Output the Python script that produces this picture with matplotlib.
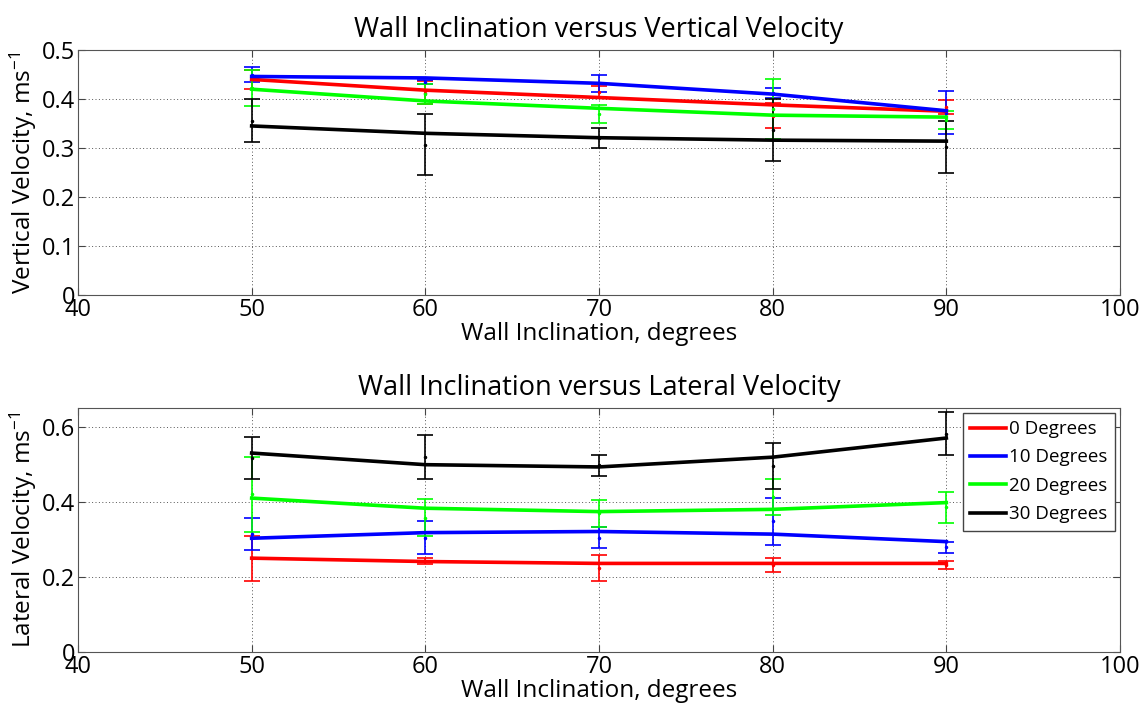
"""Wall inclination versus vertical / lateral velocity (two panels)."""

import matplotlib

matplotlib.use("Agg")
import matplotlib.pyplot as plt

plt.rcParams["font.family"] = ["Open Sans", "DejaVu Sans"]
plt.rcParams["mathtext.default"] = "regular"

angles = [50, 60, 70, 80, 90]
series_labels = ["0 Degrees", "10 Degrees", "20 Degrees", "30 Degrees"]
series_colors = ["#ff0000", "#0000ff", "#00ff00", "#000000"]

# vertical velocity: measured means, error half-widths and fitted curve values
vert_mean = [
    [0.440, 0.413, 0.415, 0.366, 0.383],
    [0.450, 0.434, 0.432, 0.413, 0.372],
    [0.423, 0.410, 0.370, 0.379, 0.357],
    [0.356, 0.307, 0.320, 0.337, 0.302],
]
vert_err = [
    [0.019, 0.024, 0.012, 0.026, 0.014],
    [0.016, 0.004, 0.018, 0.010, 0.044],
    [0.037, 0.020, 0.018, 0.061, 0.018],
    [0.044, 0.062, 0.021, 0.064, 0.054],
]
vert_fit = [
    [0.440, 0.418, 0.403, 0.388, 0.375],
    [0.446, 0.443, 0.432, 0.410, 0.376],
    [0.420, 0.396, 0.381, 0.367, 0.363],
    [0.345, 0.330, 0.321, 0.316, 0.314],
]

# lateral velocity
lat_mean = [
    [0.250, 0.243, 0.224, 0.232, 0.231],
    [0.314, 0.305, 0.305, 0.348, 0.279],
    [0.420, 0.358, 0.370, 0.413, 0.385],
    [0.517, 0.520, 0.497, 0.495, 0.582],
]
lat_err = [
    [0.060, 0.008, 0.035, 0.018, 0.011],
    [0.042, 0.044, 0.027, 0.063, 0.014],
    [0.099, 0.049, 0.036, 0.047, 0.042],
    [0.056, 0.059, 0.028, 0.061, 0.057],
]
lat_fit = [
    [0.250, 0.241, 0.236, 0.236, 0.236],
    [0.303, 0.318, 0.321, 0.314, 0.294],
    [0.410, 0.383, 0.374, 0.380, 0.398],
    [0.530, 0.499, 0.493, 0.519, 0.570],
]

x_ticks = [40, 50, 60, 70, 80, 90, 100]
vert_ticks = [0, 0.1, 0.2, 0.3, 0.4, 0.5]
vert_tick_labels = ["0", "0.1", "0.2", "0.3", "0.4", "0.5"]
lat_ticks = [0, 0.2, 0.4, 0.6]
lat_tick_labels = ["0", "0.2", "0.4", "0.6"]

W, H = 1144, 709
fig = plt.figure(figsize=(W / 100, H / 100), dpi=100)
ax_top = fig.add_axes([78 / W, 1 - 295 / H, (1120 - 78) / W, (295 - 50) / H])
ax_bot = fig.add_axes([78 / W, 1 - 652 / H, (1120 - 78) / W, (652 - 408) / H])


def draw_panel(ax, means, errs, fits, yticks, ylabels, ylim, title, ylabel):
    for mean, err, fit, color, label in zip(
        means, errs, fits, series_colors, series_labels
    ):
        ax.errorbar(
            angles, mean, yerr=err, fmt=".", color=color, markersize=3,
            elinewidth=1.2, capsize=6, capthick=1.2, zorder=2,
        )
        ax.plot(angles, fit, color=color, linewidth=2.6, label=label, zorder=3)

    ax.set_xlim(40, 100)
    ax.set_ylim(*ylim)
    ax.set_xticks(x_ticks)
    ax.set_yticks(yticks)
    ax.set_yticklabels(ylabels)
    ax.grid(True, linestyle=(0, (1, 2.5)), color="#555555", linewidth=0.7)
    ax.tick_params(direction="in", top=True, right=True, labelsize=17,
                   length=5, color="#444444", pad=2)
    for spine in ax.spines.values():
        spine.set_color("#555555")
    ax.set_title(title, fontsize=19.5, pad=9)
    ax.set_xlabel("Wall Inclination, degrees", fontsize=17.5, labelpad=0)
    ax.set_ylabel(ylabel, fontsize=17.5, labelpad=2)


draw_panel(ax_top, vert_mean, vert_err, vert_fit, vert_ticks, vert_tick_labels,
           (0, 0.5), "Wall Inclination versus Vertical Velocity",
           r"Vertical Velocity, ms$^{-1}$")
draw_panel(ax_bot, lat_mean, lat_err, lat_fit, lat_ticks, lat_tick_labels,
           (0, 0.65), "Wall Inclination versus Lateral Velocity",
           r"Lateral Velocity, ms$^{-1}$")

ax_bot.legend(loc="upper right", fontsize=13.5, handlelength=1.9,
              handletextpad=0.2, borderpad=0.4, labelspacing=0.55,
              fancybox=False, edgecolor="#444444", framealpha=1,
              borderaxespad=0.25)

fig.savefig("out.png", dpi=100)
